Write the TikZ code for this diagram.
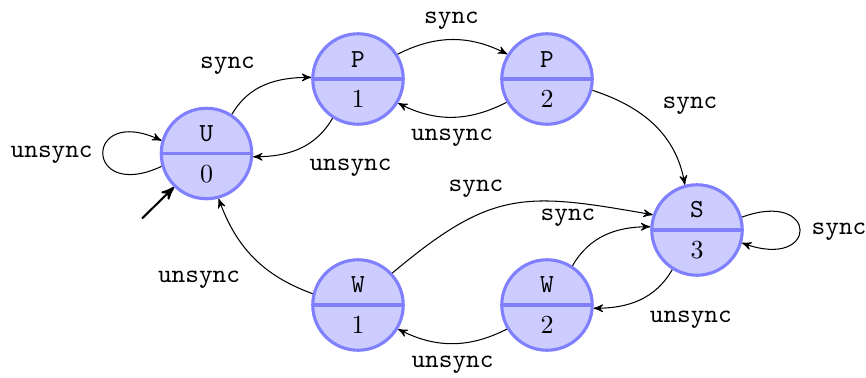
\documentclass[tikz,border=0pt]{standalone}
\usetikzlibrary{shapes.multipart,arrows}
\begin{document}
\begin{tikzpicture}[x=0.38462pt,y=0.38462pt,
  state/.style={circle split, draw=blue!50, fill=blue!20, line width=1.2pt,
                minimum size=34.8pt, inner sep=4pt},
  lbl/.style={font=\ttfamily, inner sep=0pt},
  trans/.style={->, >=stealth'},
  startarrow/.style={->, >=stealth', thick}]
\useasboundingbox (0,0) rectangle (866,377);

% states
\node[state] (U)  at (206.5,223.5) {\texttt{U} \nodepart{lower} $0$};
\node[state] (P1) at (358,298)     {\texttt{P} \nodepart{lower} $1$};
\node[state] (P2) at (547,298)     {\texttt{P} \nodepart{lower} $2$};
\node[state] (S)  at (697,147)     {\texttt{S} \nodepart{lower} $3$};
\node[state] (W1) at (358,72)      {\texttt{W} \nodepart{lower} $1$};
\node[state] (W2) at (547,72)      {\texttt{W} \nodepart{lower} $2$};

% transitions
\draw[trans] (U.57)   to[out=60,in=180]   (P1.178);
\draw[trans] (P1.237) to[out=240,in=0]    (U.-4);
\draw[trans] (P1.32)  to[out=27,in=153]   (P2.148);
\draw[trans] (P2.210) to[out=207,in=-27]  (P1.-31);
\draw[trans] (P2.-14) to[out=-18,in=100]  (S.105);
\draw[trans] (S.16) .. controls +(20:82) and +(-20:82) .. (S.-16);
\draw[trans] (S.238)  to[out=240,in=0]    (W2.-4);
\draw[trans] (W2.57)  to[out=60,in=180]   (S.176);
\draw[trans] (W1.43)  to[out=40,in=170,looseness=1.25] (S.161);
\draw[trans] (W2.211) to[out=207,in=-27]  (W1.-31);
\draw[trans] (W1.166) to[out=160,in=-70]  (U.-75);
\draw[trans] (U.196) .. controls +(205:86) and +(155:86) .. (U.164);

% initial state marker
\coordinate (init) at (142,158.5);
\draw[startarrow] (init) -- (U.226);

% transition labels
\node[lbl] (l1)  at (227.5,311.5) {sync};
\node[lbl] (l2)  at (350.5,209)   {unsync};
\node[lbl] (l3)  at (451.5,356.5) {sync};
\node[lbl] (l4)  at (452,239.5)   {unsync};
\node[lbl] (l5)  at (690,271.5)   {sync};
\node[lbl] (l6)  at (839,145.5)   {sync};
\node[lbl] (l7)  at (690.8,57.5)  {unsync};
\node[lbl] (l8)  at (568,159.5)   {sync};
\node[lbl] (l9)  at (476,188)     {sync};
\node[lbl] (l10) at (452.5,12)    {unsync};
\node[lbl] (l11) at (199,97)      {unsync};
\node[lbl] (l12) at (51.7,222.5)  {unsync};
\end{tikzpicture}
\end{document}
